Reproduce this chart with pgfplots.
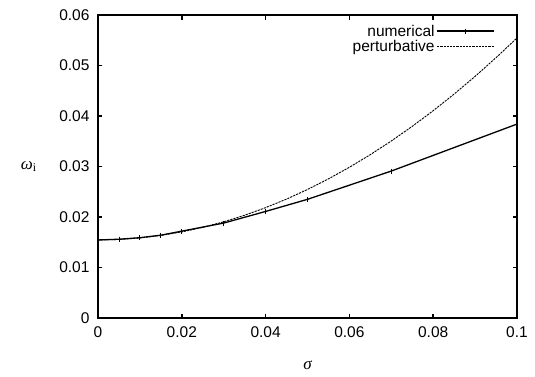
\documentclass[border=0pt]{standalone}
\usepackage{pgfplots}
\pgfplotsset{compat=1.18}
\usepackage{fontspec}
\setmainfont{Liberation Sans}
\newfontfamily\greekfont{Liberation Serif}
\begin{document}
\begin{tikzpicture}[font=\fontsize{15.5}{17}\selectfont]
\begin{axis}[
  scale only axis,
  width=419pt, height=303pt,
  xmin=0, xmax=0.1, ymin=0, ymax=0.06,
  scaled x ticks=false, scaled y ticks=false,
  xtick={0,0.02,0.04,0.06,0.08,0.1},
  xticklabels={0,0.02,0.04,0.06,0.08,0.1},
  ytick={0,0.01,0.02,0.03,0.04,0.05,0.06},
  yticklabels={0,0.01,0.02,0.03,0.04,0.05,0.06},
  tick label style={font=\fontsize{15.5}{17}\selectfont},
  tick align=inside,
  major tick length=4.5pt,
  tick style={line width=1.6pt, black},
  axis line style={line width=2.2pt},
  xticklabel style={yshift=-5pt},
  yticklabel style={xshift=-5pt},
  legend style={draw=none, fill=none, at={(rel axis cs:0.9475,0.975)}, anchor=north east, row sep=-1pt, inner sep=0pt, font=\fontsize{15.5}{17}\selectfont},
  legend cell align=right,
  legend plot pos=right,
  legend image code/.code={\draw[mark repeat=2,mark phase=2,#1] plot coordinates {(0cm,0cm) (1cm,0cm) (2cm,0cm)};},
  clip=false,
]
\addplot[black, line width=1.3pt, mark=|, mark size=2.5pt, mark options={solid, line width=0.8pt}] coordinates {
(0,0.01545) (0.005,0.0156) (0.01,0.0159) (0.015,0.0164) (0.02,0.0172)
(0.03,0.0188) (0.04,0.0211) (0.05,0.0235) (0.07,0.0291) (0.1,0.0384)
};
\addlegendentry{numerical}
\addplot[black, line width=0.9pt, dash pattern=on 2.2pt off 1pt] coordinates {
(0,0.01545) (0.005,0.01555) (0.01,0.01585) (0.015,0.01635) (0.02,0.01705)
(0.025,0.01795) (0.03,0.01905) (0.035,0.02035) (0.04,0.02185) (0.045,0.02355)
(0.05,0.02545) (0.055,0.02755) (0.06,0.02985) (0.065,0.03235) (0.07,0.03505)
(0.075,0.03795) (0.08,0.04105) (0.085,0.04435) (0.09,0.04785) (0.095,0.05155)
(0.1,0.05545)
};
\addlegendentry{perturbative}
\coordinate (bl) at (rel axis cs:0,0);
\coordinate (tr) at (rel axis cs:1,1);
\node at (rel axis cs:0.5,-0.155) {\greekfont\itshape\fontsize{17}{19}\selectfont σ};
\node at (rel axis cs:-0.165,0.5) {\greekfont\itshape\fontsize{17}{19}\selectfont ω\textsubscript{\upshape i}};
\end{axis}
\path (bl) ++(-98pt,-59pt) coordinate (a);
\path (tr) ++(18pt,15pt) coordinate (b);
\pgfresetboundingbox
\path (a) rectangle (b);
\end{tikzpicture}
\end{document}
